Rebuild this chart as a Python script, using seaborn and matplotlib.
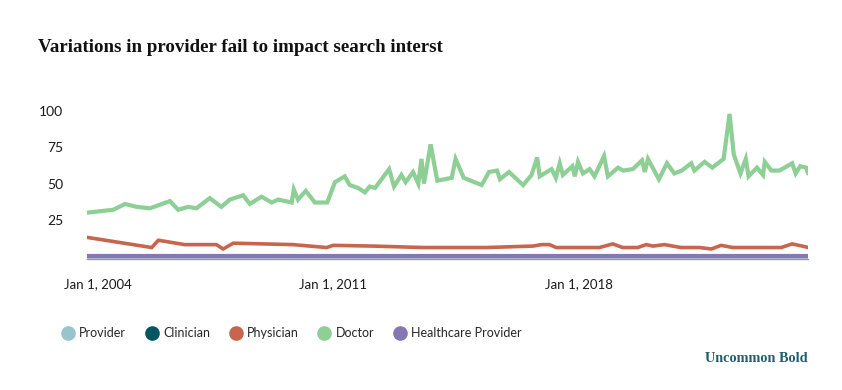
import numpy as np
import pandas as pd
import matplotlib
matplotlib.use("Agg")
import matplotlib.pyplot as plt
from matplotlib.lines import Line2D
from matplotlib.transforms import ScaledTranslation
import seaborn as sns

# ---------------- data ----------------
series_names = ["Provider", "Clinician", "Physician", "Doctor", "Healthcare Provider"]
series_colors = ["#98c4cc", "#005662", "#c8654e", "#8dcf95", "#8577b1"]

doctor_t = [2004.0, 2004.75, 2005.08, 2005.41, 2005.79, 2006.36, 2006.59, 2006.88, 2007.11,
            2007.49, 2007.82, 2008.06, 2008.44, 2008.63, 2008.96, 2009.25, 2009.44, 2009.82,
            2009.88, 2010.0, 2010.22, 2010.48, 2010.83, 2011.05, 2011.33, 2011.47, 2011.71,
            2011.90, 2012.04, 2012.19, 2012.59, 2012.73, 2012.94, 2013.06, 2013.27, 2013.42,
            2013.51, 2013.58, 2013.77, 2013.96, 2014.37, 2014.48, 2014.71, 2015.22, 2015.43,
            2015.66, 2015.74, 2016.0, 2016.40, 2016.64, 2016.80, 2016.87, 2017.21, 2017.33,
            2017.44, 2017.53, 2017.80, 2017.87, 2017.96, 2018.10, 2018.29, 2018.43, 2018.70,
            2018.81, 2019.10, 2019.24, 2019.52, 2019.78, 2019.86, 2019.95, 2020.26, 2020.49,
            2020.70, 2020.91, 2021.18, 2021.27, 2021.56, 2021.78, 2022.10, 2022.27, 2022.39,
            2022.58, 2022.73, 2022.81, 2023.05, 2023.22, 2023.27, 2023.46, 2023.69, 2024.05,
            2024.15, 2024.28, 2024.45, 2024.5]
doctor_v = [30, 32, 36, 34, 33, 38, 32, 34, 33,
            40, 34, 39, 42, 36, 41, 37, 39, 37,
            46, 39, 45, 37, 37, 51, 55, 49, 47,
            44, 48, 47, 60, 48, 56, 51, 58, 50,
            67, 50, 77, 52, 54, 67, 54, 49, 58,
            59, 53, 58, 49, 56, 68, 55, 60, 54,
            64, 56, 62, 55, 65, 57, 60, 55, 69,
            55, 61, 59, 60, 66, 58, 67, 53, 64,
            57, 59, 64, 59, 65, 61, 67, 98, 70,
            57, 67, 55, 61, 56, 65, 59, 59, 64,
            57, 62, 61, 57]

physician_t = [2004.0, 2005.84, 2006.03, 2006.78, 2007.68, 2007.87, 2008.16, 2009.86, 2010.81,
               2011.0, 2012.13, 2013.55, 2015.35, 2016.68, 2016.92, 2017.15, 2017.34, 2018.57,
               2018.95, 2019.23, 2019.66, 2019.90, 2020.09, 2020.42, 2020.89, 2021.41, 2021.75,
               2022.03, 2022.36, 2023.74, 2024.05, 2024.43, 2024.5]
physician_v = [13, 6, 11, 8, 8, 5, 9, 8, 6,
               7.5, 7, 6, 6, 7, 8, 8, 6, 6,
               8.5, 6, 6, 8, 7, 8, 6, 6, 5,
               7.5, 6, 6, 8.5, 6.5, 6]

flat_t = [2004.0, 2024.5]
provider_v = [0, 0]
clinician_v = [0, 0]
healthcare_v = [0, 0]

tick_years = [2004, 2011, 2018]
tick_labels = ["Jan 1, 2004", "Jan 1, 2011", "Jan 1, 2018"]
y_ticks = [25, 50, 75, 100]

# ---------------- long-form table ----------------
frames = [
    pd.DataFrame({"t": flat_t, "v": provider_v, "s": "Provider"}),
    pd.DataFrame({"t": flat_t, "v": clinician_v, "s": "Clinician"}),
    pd.DataFrame({"t": physician_t, "v": physician_v, "s": "Physician"}),
    pd.DataFrame({"t": doctor_t, "v": doctor_v, "s": "Doctor"}),
    pd.DataFrame({"t": flat_t, "v": healthcare_v, "s": "Healthcare Provider"}),
]
df = pd.concat(frames, ignore_index=True)
palette = dict(zip(series_names, series_colors))

sns.set_theme(style="white")
plt.rcParams["font.family"] = ["Lato", "DejaVu Sans"]

fig = plt.figure(figsize=(8.42, 3.90), dpi=100)
ax = fig.add_axes([87 / 842, (390 - 259) / 390, 721 / 842, 148 / 390])

widths = {"Provider": 2.5, "Clinician": 2.5, "Physician": 2.6, "Doctor": 3.0,
          "Healthcare Provider": 3.0}
for name in series_names:
    sub = df[df["s"] == name]
    sns.lineplot(data=sub, x="t", y="v", color=palette[name], lw=widths[name],
                 ax=ax, legend=False, sort=True, solid_joinstyle="miter")

ax.set_xlim(2004.0, 2024.5)
ax.set_ylim(-1.9, 100)
ax.set_xlabel("")
ax.set_ylabel("")
ax.set_yticks(y_ticks)
ax.set_yticklabels([str(v) for v in y_ticks])
ax.set_xticks(tick_years)
ax.set_xticklabels(tick_labels)
ax.tick_params(axis="both", length=0, labelsize=10, labelcolor="#1a1a1a")
ax.tick_params(axis="x", labelsize=9.5)
ax.tick_params(axis="y", pad=17)
ax.tick_params(axis="x", pad=14)
first = ax.get_xticklabels()[0]
first.set_transform(first.get_transform() + ScaledTranslation(11 / 100, 0, fig.dpi_scale_trans))

for side in ["top", "right", "left"]:
    ax.spines[side].set_visible(False)
ax.spines["bottom"].set_color("#9a9a9a")
ax.spines["bottom"].set_linewidth(1.0)
ax.patch.set_alpha(0)

handles = [Line2D([], [], marker="o", linestyle="", markersize=9.5,
                  markerfacecolor=c, markeredgecolor=c) for c in series_colors]
fig.legend(handles, series_names, loc="center left",
           bbox_to_anchor=(61 / 842, 1 - 333 / 390), ncol=5, frameon=False,
           fontsize=9, handlelength=1.1, handletextpad=0.35, columnspacing=1.5,
           borderpad=0, borderaxespad=0)

fig.text(38 / 842, 1 - 51.7 / 390, "Variations in provider fail to impact search interst",
         family=["Liberation Serif", "DejaVu Serif"], fontweight="bold", fontsize=13.6,
         color="#111111", ha="left", va="baseline")
fig.text(808 / 842, 1 - 361.7 / 390, "Uncommon Bold",
         family=["Liberation Serif", "DejaVu Serif"], fontweight="bold", fontsize=10.3,
         color="#1d5f6d", ha="right", va="baseline")

fig.savefig("out.png", dpi=100, facecolor="white")
